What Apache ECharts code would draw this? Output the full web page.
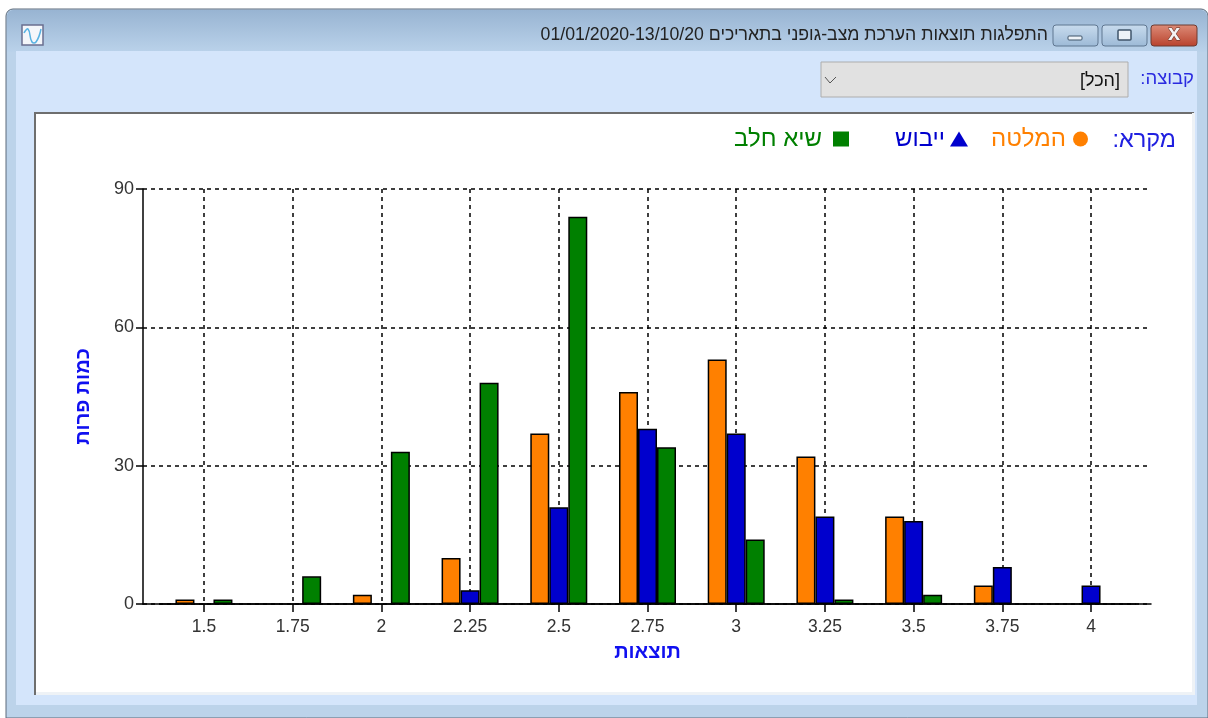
<!DOCTYPE html>
<html lang="he" dir="rtl">
<head>
<meta charset="utf-8">
<title>התפלגות תוצאות</title>
<style>
    html, body { margin: 0; padding: 0; background: #fff; }
    #main { width: 1208px; height: 718px; }
</style>
</head>
<body>
<div id="main"></div>
<script src="https://cdn.jsdelivr.net/npm/echarts@6/dist/echarts.min.js"></script>
<script>
var categories = ['1.5', '1.75', '2', '2.25', '2.5', '2.75', '3', '3.25', '3.5', '3.75', '4'];
// null = no bar drawn in the original
var meltaValues = [1, null, 2, 10, 37, 46, 53, 32, 19, 4, null];
var dryValues = [null, null, null, 3, 21, 38, 37, 19, 18, 8, 4];
var peakValues = [1, 6, 33, 48, 84, 34, 14, 1, 2, null, null];
var yTicks = { min: 0, max: 90, interval: 30 };
var windowTitle = 'התפלגות תוצאות הערכת מצב-גופני בתאריכים 01/01/2020-13/10/20';
var groupLabel = 'קבוצה:';
var groupValue = '[הכל]';
var legendLabel = 'מקרא:';
var xName = 'תוצאות';
var yName = 'כמות פרות';

var FONT = '"Liberation Sans", Arial, sans-serif';
var ORANGE = '#ff8000', BLUE = '#0000cd', GREEN = '#008000';

var myChart = echarts.init(document.getElementById('main'));

function barSeries(name, data, color) {
    return {
        name: name,
        type: 'bar',
        xAxisIndex: 1,
        yAxisIndex: 1,
        data: data,
        barWidth: 19,
        barGap: 0,
        itemStyle: { color: color, borderColor: '#000', borderWidth: 1.5 }
    };
}

function legendItem(name, icon, color, right, w, h, pad) {
    return {
        top: 127,
        right: right,
        padding: 0,
        orient: 'horizontal',
        align: 'right',
        itemWidth: w,
        itemHeight: h,
        itemGap: 0,
        selectedMode: false,
        data: [{ name: name, icon: icon, itemStyle: { color: color, borderWidth: 0 }, textStyle: { color: color } }],
        textStyle: { fontFamily: FONT, fontSize: 24, padding: [0, pad, 0, 0] }
    };
}

var chrome = [
    // window frame
    { type: 'rect', z: -10, shape: { x: 6, y: 9, width: 1202, height: 709, r: [7, 7, 0, 0] },
      style: { fill: '#bcd3ea', stroke: '#5d6b7a', lineWidth: 1 } },
    { type: 'rect', z: -9, shape: { x: 7, y: 10, width: 1200, height: 42, r: [6, 6, 0, 0] },
      style: { fill: new echarts.graphic.LinearGradient(0, 0, 0, 1, [
          { offset: 0, color: '#98b4d2' }, { offset: 1, color: '#bad2ea' }]) } },
    { type: 'rect', z: -9, shape: { x: 16, y: 51, width: 1181, height: 654 }, style: { fill: '#d4e5fb' } },
    // white panel of the chart
    { type: 'rect', z: -8, shape: { x: 35, y: 113, width: 1158, height: 581 },
      style: { fill: '#fff', stroke: '#6e6e6e', lineWidth: 2 } },
    { type: 'rect', z: -7, shape: { x: 36, y: 692, width: 1158, height: 3 }, style: { fill: '#eef2f6' } },
    { type: 'rect', z: -7, shape: { x: 1192, y: 113, width: 3, height: 582 }, style: { fill: '#eef2f6' } },
    // app icon
    { type: 'rect', z: -6, shape: { x: 22, y: 25, width: 21, height: 20 },
      style: { fill: '#f4f6fa', stroke: '#6a6f90', lineWidth: 1.5 } },
    { type: 'polyline', z: -5, shape: { points: [[24, 33], [28, 29], [32, 42], [36, 42], [41, 29]], smooth: 0.5 },
      style: { fill: null, stroke: '#58b2e2', lineWidth: 1.5 } },
    // window title
    { type: 'text', z: -5, style: { x: 1048, y: 35, text: windowTitle, align: 'right', verticalAlign: 'middle',
      font: '17.7px ' + FONT, fill: '#222' } },
    // window buttons
    { type: 'rect', z: -6, shape: { x: 1053, y: 25, width: 45, height: 21, r: 3 },
      style: { fill: new echarts.graphic.LinearGradient(0, 0, 0, 1, [
          { offset: 0, color: '#c9dcee' }, { offset: 1, color: '#9cb9d6' }]), stroke: '#5f7690', lineWidth: 1 } },
    { type: 'rect', z: -5, shape: { x: 1068, y: 36, width: 14, height: 4, r: 1 },
      style: { fill: '#eef3f8', stroke: '#3f5469', lineWidth: 1 } },
    { type: 'rect', z: -6, shape: { x: 1102, y: 25, width: 45, height: 21, r: 3 },
      style: { fill: new echarts.graphic.LinearGradient(0, 0, 0, 1, [
          { offset: 0, color: '#c9dcee' }, { offset: 1, color: '#9cb9d6' }]), stroke: '#5f7690', lineWidth: 1 } },
    { type: 'rect', z: -5, shape: { x: 1118, y: 30, width: 13, height: 10, r: 1 },
      style: { fill: '#eef3f8', stroke: '#3f5469', lineWidth: 1.5 } },
    { type: 'rect', z: -6, shape: { x: 1151, y: 25, width: 46, height: 21, r: 3 },
      style: { fill: new echarts.graphic.LinearGradient(0, 0, 0, 1, [
          { offset: 0, color: '#dd8c78' }, { offset: 1, color: '#b8412c' }]), stroke: '#6d3a30', lineWidth: 1 } },
    { type: 'text', z: -5, style: { x: 1174, y: 34, text: 'x', align: 'center', verticalAlign: 'middle',
      font: 'bold 22px ' + FONT, fill: '#f4f4f4', stroke: '#5a2a20', lineWidth: 1 } },
    // group selector
    { type: 'text', z: -5, style: { x: 1194, y: 79, text: groupLabel, align: 'right', verticalAlign: 'middle',
      font: '18.5px ' + FONT, fill: '#2a2ae0' } },
    { type: 'rect', z: -6, shape: { x: 821, y: 62, width: 307, height: 35 },
      style: { fill: '#e1e1e1', stroke: '#adadad', lineWidth: 1 } },
    { type: 'polyline', z: -5, shape: { points: [[825, 77], [830, 83], [836, 77]] },
      style: { fill: null, stroke: '#555', lineWidth: 1 } },
    { type: 'text', z: -5, style: { x: 1120, y: 81, text: groupValue, align: 'right', verticalAlign: 'middle',
      font: '18px ' + FONT, fill: '#111' } },
    // legend caption
    { type: 'text', z: 5, style: { x: 1176, y: 141, text: legendLabel, align: 'right', verticalAlign: 'middle',
      font: '23.5px ' + FONT, fill: '#2020e0' } }
];

var option = {
    animation: false,
    backgroundColor: '#fff',
    textStyle: { fontFamily: FONT },
    graphic: chrome,
    legend: [
        legendItem('המלטה', 'circle', ORANGE, 1208 - 1088, 15, 15, 2),
        legendItem('ייבוש', 'triangle', BLUE, 1208 - 968, 18, 15, 0),
        legendItem('שיא חלב', 'rect', GREEN, 1208 - 849, 16, 15, 6)
    ],
    // grid 0 carries the long axis line and the horizontal dashes, grid 1 the 11 bands of bars
    grid: [
        { left: 143, right: 57, top: 189, bottom: 114 },
        { left: 159.6, width: 975.8, top: 189, bottom: 114 }
    ],
    xAxis: [
        {
            gridIndex: 0, type: 'value', min: 0, max: 1,
            axisLine: { show: true, onZero: false, lineStyle: { color: '#000', width: 1.5 } },
            axisTick: { show: false }, axisLabel: { show: false }, splitLine: { show: false }
        },
        {
            gridIndex: 1, type: 'category', data: categories,
            name: xName, nameLocation: 'middle', nameGap: 38,
            nameTextStyle: { color: '#1010f0', fontFamily: FONT, fontSize: 20, fontWeight: 'bold' },
            axisLine: { show: true, onZero: false, lineStyle: { color: '#000', width: 1.5 } },
            axisTick: { show: true, alignWithLabel: true, length: 8, lineStyle: { color: '#000', width: 1.5 } },
            axisLabel: { color: '#333', fontFamily: FONT, fontSize: 17.5, margin: 14 },
            splitLine: { show: true, alignWithLabel: true, lineStyle: { color: '#000', type: [4, 4], width: 1.5 } }
        }
    ],
    yAxis: [
        {
            gridIndex: 0, type: 'value', min: yTicks.min, max: yTicks.max, interval: yTicks.interval,
            name: yName, nameLocation: 'middle', nameGap: 50, nameRotate: 90,
            nameTextStyle: { color: '#1010f0', fontFamily: FONT, fontSize: 20, fontWeight: 'bold' },
            axisLine: { show: true, lineStyle: { color: '#000', width: 1.5 } },
            axisTick: { show: true, length: 7, lineStyle: { color: '#000', width: 1.5 } },
            axisLabel: { color: '#333', fontFamily: FONT, fontSize: 18, margin: 9, padding: [6, 0, 0, 0] },
            splitLine: { show: true, lineStyle: { color: '#000', type: [4, 4], width: 1.5 } }
        },
        {
            gridIndex: 1, type: 'value', min: yTicks.min, max: yTicks.max, interval: yTicks.interval,
            axisLine: { show: false }, axisTick: { show: false }, axisLabel: { show: false }, splitLine: { show: false }
        }
    ],
    series: [
        barSeries('המלטה', meltaValues, ORANGE),
        barSeries('ייבוש', dryValues, BLUE),
        barSeries('שיא חלב', peakValues, GREEN)
    ]
};

myChart.setOption(option);
</script>
</body>
</html>
